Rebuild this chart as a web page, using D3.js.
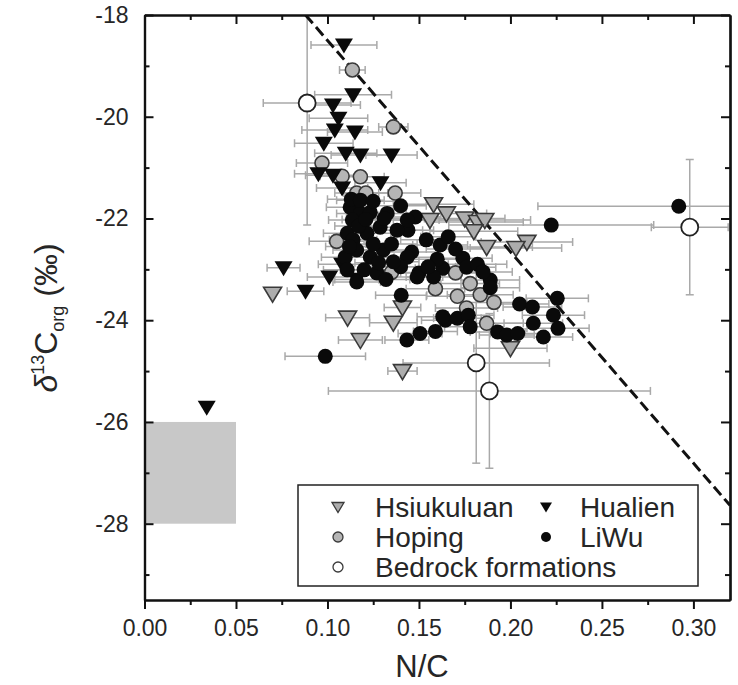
<!DOCTYPE html>
<html>
<head>
<meta charset="utf-8">
<script src="https://cdn.jsdelivr.net/npm/d3@7"></script>
<style>
body{margin:0;background:#fff;}
text{font-family:"Liberation Sans",Arial,sans-serif;fill:#262626;}
</style>
</head>
<body>
<script>
// [N/C, d13C, N/C error]
var hsiukuluan = [
  [0.070,-23.48,0],[0.111,-23.95,0.012],[0.136,-24.05,0.013],[0.118,-24.39,0.012],
  [0.141,-25.00,0.008],[0.141,-23.75,0.010],[0.200,-24.55,0.020],[0.158,-21.72,0.022],
  [0.165,-21.90,0.022],[0.156,-22.03,0.020],[0.175,-22.00,0.022],[0.182,-22.07,0.025],
  [0.186,-22.03,0.025],[0.180,-22.25,0.024],[0.187,-22.56,0.025],[0.209,-22.46,0.025],
  [0.203,-22.58,0.025]
];
var hoping = [
  [0.1136,-19.08,0.007],[0.136,-20.20,0.008],[0.097,-20.91,0.014],[0.108,-21.17,0.012],
  [0.118,-21.18,0.013],[0.116,-21.50,0.012],[0.121,-21.50,0.012],[0.137,-21.50,0.014],
  [0.105,-22.45,0.015],[0.135,-23.06,0.015],[0.159,-23.38,0.016],[0.170,-23.07,0.015],
  [0.171,-23.53,0.017],[0.178,-23.28,0.016],[0.1835,-23.50,0.018],[0.191,-23.65,0.018],
  [0.176,-23.76,0.017],[0.187,-24.06,0.020]
];
var hualien = [
  [0.109,-18.59,0.018],[0.114,-19.57,0.021],[0.103,-19.77,0.015],[0.106,-20.03,0.016],
  [0.104,-20.26,0.018],[0.115,-20.30,0.015],[0.098,-20.52,0.016],[0.110,-20.72,0.017],
  [0.118,-20.75,0.016],[0.135,-20.75,0.014],[0.095,-21.12,0.013],[0.103,-21.15,0.015],
  [0.129,-21.30,0.014],[0.108,-21.40,0.014],[0.076,-22.97,0.009],[0.101,-23.15,0.012],
  [0.088,-23.43,0.010],[0.116,-23.20,0.012],[0.108,-22.90,0.013],[0.034,-25.71,0]
];
var liwu = [
  [0.292,-21.76,0.077],[0.2223,-22.13,0.056],[0.0988,-24.71,0.022],
  [0.1434,-24.39,0.012],[0.1506,-24.26,0.012],[0.159,-24.22,0.012],[0.1644,-24.00,0.013],
  [0.171,-23.96,0.013],[0.177,-23.90,0.014],[0.178,-24.13,0.014],[0.193,-24.23,0.015],
  [0.198,-24.29,0.015],[0.204,-24.26,0.015],[0.2125,-24.06,0.016],[0.218,-24.33,0.016],
  [0.2235,-23.90,0.017],[0.226,-24.16,0.017],[0.205,-23.68,0.016],[0.212,-23.74,0.016],
  [0.2256,-23.57,0.017],[0.189,-23.21,0.016],[0.189,-23.36,0.016],[0.1403,-23.51,0.014],
  [0.150,-23.07,0.014],[0.154,-22.42,0.014],[0.1616,-22.52,0.015],[0.166,-22.36,0.015],
  [0.163,-22.98,0.015],[0.174,-22.78,0.016],[0.176,-22.96,0.016],[0.144,-22.23,0.014],
  [0.148,-21.97,0.014],[0.146,-22.66,0.014],[0.158,-23.15,0.015],[0.149,-23.15,0.014],
  [0.163,-23.93,0.014],[0.1124,-21.78,0.013],[0.118,-21.90,0.013],[0.1136,-22.03,0.013],
  [0.1234,-21.88,0.013],[0.1326,-21.90,0.014],[0.1108,-22.29,0.013],[0.114,-22.42,0.013],
  [0.1216,-22.29,0.013],[0.1288,-22.17,0.014],[0.138,-22.23,0.014],[0.1436,-22.03,0.014],
  [0.1097,-22.76,0.013],[0.116,-22.62,0.013],[0.1234,-22.76,0.013],[0.1305,-22.62,0.014],
  [0.1108,-23.01,0.013],[0.120,-23.01,0.013],[0.127,-23.07,0.013],[0.116,-23.25,0.013],
  [0.1436,-22.76,0.014],[0.113,-21.62,0.013],[0.118,-21.64,0.013],[0.125,-21.66,0.013],
  [0.135,-22.50,0.014],[0.140,-22.95,0.014],[0.132,-23.20,0.013],
  [0.117,-22.15,0.013],[0.125,-22.50,0.013],[0.131,-22.00,0.014],[0.136,-22.85,0.014],
  [0.121,-22.02,0.013],[0.128,-22.87,0.013],[0.112,-22.55,0.013],[0.140,-21.75,0.014],
  [0.170,-22.60,0.016],[0.160,-22.80,0.015],[0.182,-22.90,0.016],[0.185,-23.05,0.016],
  [0.155,-22.95,0.015]
];
// [N/C, d13C, N/C error, d13C error]
var bedrock = [
  [0.0889,-19.73,0.024,2.4],[0.298,-22.17,0.021,1.33],
  [0.1813,-24.84,0.040,1.97],[0.1885,-25.39,0.088,1.52]
];
var grayBox = [0, 0.05, -26, -28];
var dashLine = [[0.088,-18],[0.32,-27.64]];
var xMajor = [0,0.05,0.10,0.15,0.20,0.25,0.30];
var xMinor = [0.025,0.075,0.125,0.175,0.225,0.275];
var yMajor = [-18,-20,-22,-24,-26,-28];
var yMinor = [-19,-21,-23,-25,-27,-29];
var legendItems = [
  {name:"Hsiukuluan", type:"hsiu", col:0, row:0},
  {name:"Hualien", type:"hual", col:1, row:0},
  {name:"Hoping", type:"hop", col:0, row:1},
  {name:"LiWu", type:"liwu", col:1, row:1},
  {name:"Bedrock formations", type:"bed", col:0, row:2}
];

var margin = {top:15, left:144.5},
    width = 585.5, height = 585;

var svg = d3.select("body").append("svg")
    .attr("width",738).attr("height",685);

var x = d3.scaleLinear().domain([0,0.32]).range([0,width]);
var y = d3.scaleLinear().domain([-18,-29.5]).range([0,height]);

var g = svg.append("g").attr("transform","translate("+margin.left+","+margin.top+")");

g.append("defs").append("clipPath").attr("id","clip")
  .append("rect").attr("width",width).attr("height",height);

var plot = g.append("g").attr("clip-path","url(#clip)");

plot.append("rect")
  .attr("x",x(grayBox[0])).attr("y",y(grayBox[2]))
  .attr("width",x(grayBox[1])-x(grayBox[0])).attr("height",y(grayBox[3])-y(grayBox[2]))
  .style("fill","#c8c8c8");

// error bars
var errColor = "#a9a9a9", cap = 4;
function hBars(data){
  var e = plot.append("g").selectAll("g").data(data.filter(function(d){return d[2]>0;}))
    .enter().append("g").style("stroke",errColor).style("stroke-width",1.5);
  e.append("line")
    .attr("x1",function(d){return x(d[0]-d[2]);}).attr("x2",function(d){return x(d[0]+d[2]);})
    .attr("y1",function(d){return y(d[1]);}).attr("y2",function(d){return y(d[1]);});
  e.append("line")
    .attr("x1",function(d){return x(d[0]-d[2]);}).attr("x2",function(d){return x(d[0]-d[2]);})
    .attr("y1",function(d){return y(d[1])-cap;}).attr("y2",function(d){return y(d[1])+cap;});
  e.append("line")
    .attr("x1",function(d){return x(d[0]+d[2]);}).attr("x2",function(d){return x(d[0]+d[2]);})
    .attr("y1",function(d){return y(d[1])-cap;}).attr("y2",function(d){return y(d[1])+cap;});
}
hBars(hsiukuluan); hBars(hoping); hBars(hualien); hBars(liwu); hBars(bedrock);

var vb = plot.append("g").selectAll("g").data(bedrock).enter().append("g")
  .style("stroke",errColor).style("stroke-width",1.5);
vb.append("line")
  .attr("x1",function(d){return x(d[0]);}).attr("x2",function(d){return x(d[0]);})
  .attr("y1",function(d){return y(d[1]+d[3]);}).attr("y2",function(d){return y(d[1]-d[3]);});
vb.append("line")
  .attr("x1",function(d){return x(d[0])-cap;}).attr("x2",function(d){return x(d[0])+cap;})
  .attr("y1",function(d){return y(d[1]+d[3]);}).attr("y2",function(d){return y(d[1]+d[3]);});
vb.append("line")
  .attr("x1",function(d){return x(d[0])-cap;}).attr("x2",function(d){return x(d[0])+cap;})
  .attr("y1",function(d){return y(d[1]-d[3]);}).attr("y2",function(d){return y(d[1]-d[3]);});

plot.append("path")
  .attr("d",d3.line().x(function(d){return x(d[0]);}).y(function(d){return y(d[1]);})(dashLine))
  .style("fill","none").style("stroke","#111").style("stroke-width",3)
  .style("stroke-dasharray","11,5");

var triPath = "M-9,-6.5L9,-6.5L0,8.5Z";
var triSmall = "M-6,-4.5L6,-4.5L0,5.5Z";

plot.append("g").selectAll("path").data(hsiukuluan).enter().append("path")
  .attr("d",triPath)
  .attr("transform",function(d){return "translate("+x(d[0])+","+y(d[1])+")";})
  .style("fill","#adadad").style("stroke","#3a3a3a").style("stroke-width",1.6);

plot.append("g").selectAll("circle").data(hoping).enter().append("circle")
  .attr("cx",function(d){return x(d[0]);}).attr("cy",function(d){return y(d[1]);})
  .attr("r",7)
  .style("fill","#b5b5b5").style("stroke","#3a3a3a").style("stroke-width",1.6);

plot.append("g").selectAll("path").data(hualien).enter().append("path")
  .attr("d",triPath)
  .attr("transform",function(d){return "translate("+x(d[0])+","+y(d[1])+")";})
  .style("fill","#0a0a0a");

plot.append("g").selectAll("circle").data(liwu).enter().append("circle")
  .attr("cx",function(d){return x(d[0]);}).attr("cy",function(d){return y(d[1]);})
  .attr("r",7.5).style("fill","#0a0a0a");

plot.append("g").selectAll("circle").data(bedrock).enter().append("circle")
  .attr("cx",function(d){return x(d[0]);}).attr("cy",function(d){return y(d[1]);})
  .attr("r",8.5)
  .style("fill","#fff").style("stroke","#222").style("stroke-width",1.8);

// axes
var fmt = d3.format(".2f");
var yfmt = function(d){return String(d);};
g.append("g").attr("class","ax").attr("transform","translate(0,"+height+")")
  .call(d3.axisBottom(x).tickValues(xMajor).tickSize(9).tickSizeOuter(0).tickPadding(11).tickFormat(fmt));
g.append("g").attr("class","ax").attr("transform","translate(0,"+height+")")
  .call(d3.axisBottom(x).tickValues(xMinor).tickSize(5).tickSizeOuter(0).tickFormat(""));
g.append("g").attr("class","ax")
  .call(d3.axisTop(x).tickValues(xMajor).tickSize(-9).tickSizeOuter(0).tickFormat(""));
g.append("g").attr("class","ax")
  .call(d3.axisTop(x).tickValues(xMinor).tickSize(-5).tickSizeOuter(0).tickFormat(""));
g.append("g").attr("class","ax")
  .call(d3.axisLeft(y).tickValues(yMajor).tickSize(-9).tickSizeOuter(0).tickPadding(16).tickFormat(yfmt));
g.append("g").attr("class","ax")
  .call(d3.axisLeft(y).tickValues(yMinor).tickSize(-5).tickSizeOuter(0).tickFormat(""));
g.append("g").attr("class","ax").attr("transform","translate("+width+",0)")
  .call(d3.axisRight(y).tickValues(yMajor).tickSize(-9).tickSizeOuter(0).tickFormat(""));
g.append("g").attr("class","ax").attr("transform","translate("+width+",0)")
  .call(d3.axisRight(y).tickValues(yMinor).tickSize(-5).tickSizeOuter(0).tickFormat(""));

g.selectAll(".ax path").style("stroke","#111").style("stroke-width",2.2);
g.selectAll(".ax line").style("stroke","#111").style("stroke-width",2);
g.selectAll(".ax text").style("font-size","23px").style("fill","#262626")
  .style("font-family","'Liberation Sans',Arial,sans-serif");

// axis titles
svg.append("text").attr("x",422).attr("y",677).attr("text-anchor","middle")
  .style("font-size","31px").text("N/C");

var yl = svg.append("text").attr("transform","translate(57,318) rotate(-90)")
  .attr("text-anchor","middle").style("font-size","32px");
yl.append("tspan").style("font-style","italic").text("\u03b4");
yl.append("tspan").attr("dy",-13).style("font-size","18px").text("13");
yl.append("tspan").attr("dy",13).text("C");
yl.append("tspan").attr("dy",7).style("font-size","18px").text("org");
yl.append("tspan").attr("dy",-7).text(" (\u2030)");

// legend
var leg = g.append("g").attr("transform","translate("+(298-margin.left)+","+(485-margin.top)+")");
leg.append("rect").attr("width",400).attr("height",101)
  .style("fill","#fff").style("stroke","#222").style("stroke-width",1.5);
var li = leg.selectAll("g.item").data(legendItems).enter().append("g").attr("class","item")
  .attr("transform",function(d){return "translate("+(d.col?248:40)+","+(22+d.row*30)+")";});
li.each(function(d){
  var s = d3.select(this);
  if(d.type==="hsiu") s.append("path").attr("d",triSmall).style("fill","#adadad").style("stroke","#3a3a3a").style("stroke-width",1.3);
  if(d.type==="hual") s.append("path").attr("d",triSmall).style("fill","#0a0a0a");
  if(d.type==="hop") s.append("circle").attr("r",5).style("fill","#b5b5b5").style("stroke","#3a3a3a").style("stroke-width",1.3);
  if(d.type==="liwu") s.append("circle").attr("r",5).style("fill","#0a0a0a");
  if(d.type==="bed") s.append("circle").attr("r",5).style("fill","#fff").style("stroke","#3a3a3a").style("stroke-width",1.3);
});
li.append("text").attr("x",function(d){return d.col?34:37;}).attr("y",10)
  .style("font-size","28px").text(function(d){return d.name;});
</script>
</body>
</html>
